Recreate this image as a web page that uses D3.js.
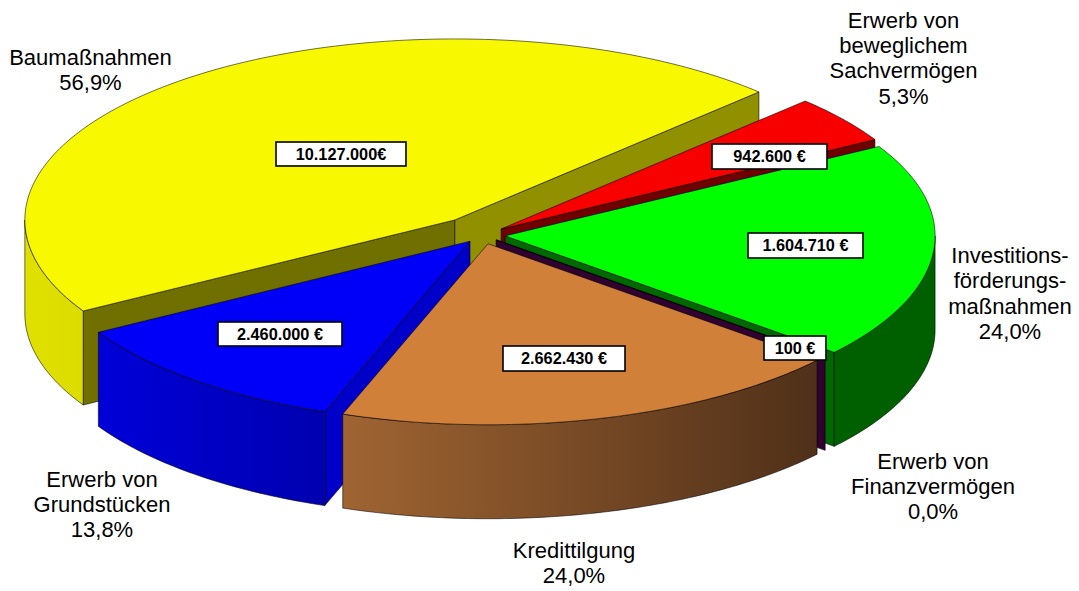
<!DOCTYPE html>
<html><head><meta charset="utf-8">
<script src="https://cdn.jsdelivr.net/npm/d3@7"></script>
<style>html,body{margin:0;padding:0;background:#fff}svg{display:block}text{font-family:"Liberation Sans",Arial,sans-serif}</style>
</head><body><svg id="c" width="1079" height="591"></svg>
<script>
// data, clockwise from the upper-right start of the pie
const categories = ["Erwerb von beweglichem Sachvermögen","Investitions-förderungs-maßnahmen","Erwerb von Finanzvermögen","Kredittilgung","Erwerb von Grundstücken","Baumaßnahmen"];
const percents = [5.3, 24.0, 0.0, 24.0, 13.8, 56.9];
const amounts = [942600, 1604710, 100, 2662430, 2460000, 10127000];
const amountLabels = ["942.600 €","1.604.710 €","100 €","2.662.430 €","2.460.000 €","10.127.000€"];
const categoryLines = [["Erwerb von","beweglichem","Sachvermögen"],["Investitions-","förderungs-","maßnahmen"],["Erwerb von","Finanzvermögen"],["Kredittilgung"],["Erwerb von","Grundstücken"],["Baumaßnahmen"]];
const percentLabels = ["5,3%","24,0%","0,0%","24,0%","13,8%","56,9%"];

// geometry and styling
const cx=482.4, cy=235, rx=430, ry=181, depth=94;
const explode=[.0547,.053,.0416,.05,.045,.105];
const paintOrder=[5,0,1,2,4,3];
const topColor=["#f80000","#00ff00","#300030","#d08038","#0000f8","#f8f800"];
const startWall=["#700000","#006800","#300030","#804820","#0000c8","#707000"];
const endWall=["#700000","#006800","#300030","#804820","#0000c8","#909000"];
const wallStops=[["#700000","#700000"],["#006000","#006000"],["#300030","#300030"],["#a06432","#4f3019"],["#0000d8","#0000b0"],["#e0e000","#dcdc00"]];
const boxes=[[712,144,115,25],[748,233,115,25],[764,336,62,24],[503,346,122,25],[218,322,124,24],[276,142,130,24]];
const labelAnchors=[[903.5,27.5],[1010,263],[933,468.5],[574,557.5],[102,486.5],[90.5,65]];
const lineStep=25.4;

const svg=d3.select("#c");
const defs=svg.append("defs");
const xS=d3.scaleLinear().domain([-1,1]).range([-rx,rx]);
const yS=d3.scaleLinear().domain([-1,1]).range([-ry,ry]);
const arcs=d3.pie().sort(null).value(d=>d).startAngle(Math.PI/4).endAngle(Math.PI/4+2*Math.PI)(percents);
const line=d3.line();
const rim=t=>[xS(Math.sin(t)),yS(-Math.cos(t))];
const sample=(a,b)=>{const n=Math.max(2,Math.ceil(Math.abs(b-a)*60));return d3.range(n+1).map(i=>a+(b-a)*i/n);};

paintOrder.forEach(i=>{
  const d=arcs[i], mid=(d.startAngle+d.endAngle)/2;
  const m=rim(mid), ox=cx+explode[i]*m[0], oy=cy+explode[i]*m[1];
  const P=([x,y],dz=0)=>[ox+x,oy+y+dz];
  const g=svg.append("g");
  const draw=(pts,fill)=>g.append("path").attr("d",line(pts)+"Z").attr("fill",fill)
    .attr("stroke","#000").attr("stroke-width",.7).attr("stroke-opacity",.8).attr("stroke-linejoin","round");
  // radial walls, only where they face the viewer
  [[d.startAngle,startWall[i],Math.sin(d.startAngle)<0],[d.endAngle,endWall[i],Math.sin(d.endAngle)>0]].forEach(([t,c,vis])=>{
    if(!vis) return;
    const r=rim(t);
    draw([P([0,0]),P(r),P(r,depth),P([0,0],depth)],c);
  });
  // outer wall (front half only)
  const a=Math.max(d.startAngle,Math.PI/2), b=Math.min(d.endAngle,3*Math.PI/2);
  if(b>a){
    const ts=sample(a,b), top=ts.map(t=>P(rim(t))), bot=ts.map(t=>P(rim(t),depth)).reverse();
    const xs=top.map(p=>p[0]);
    const id="w"+i;
    const lg=defs.append("linearGradient").attr("id",id).attr("gradientUnits","userSpaceOnUse")
      .attr("x1",d3.min(xs)).attr("x2",d3.max(xs)).attr("y1",0).attr("y2",0);
    lg.append("stop").attr("offset",0).attr("stop-color",wallStops[i][0]);
    lg.append("stop").attr("offset",1).attr("stop-color",wallStops[i][1]);
    draw(top.concat(bot),`url(#${id})`);
  }
  // top face
  const face=[P([0,0])].concat(sample(d.startAngle,d.endAngle).map(t=>P(rim(t))));
  draw(face,topColor[i]);
});

// value boxes
boxes.forEach((b,i)=>{
  svg.append("rect").attr("x",b[0]).attr("y",b[1]).attr("width",b[2]).attr("height",b[3])
    .attr("fill","#fff").attr("stroke","#000").attr("stroke-width",1.6);
  svg.append("text").attr("x",b[0]+b[2]/2).attr("y",b[1]+b[3]/2+5.5).attr("text-anchor","middle")
    .attr("font-size",16.3).attr("font-weight","bold").attr("fill","#000").text(amountLabels[i]);
});
// category labels
categoryLines.forEach((ls,i)=>{
  const t=svg.append("text").attr("text-anchor","middle").attr("font-size",22).attr("fill","#000");
  ls.concat([percentLabels[i]]).forEach((s,k)=>{
    t.append("tspan").attr("x",labelAnchors[i][0]).attr("y",labelAnchors[i][1]+k*lineStep).text(s);
  });
});
</script></body></html>
